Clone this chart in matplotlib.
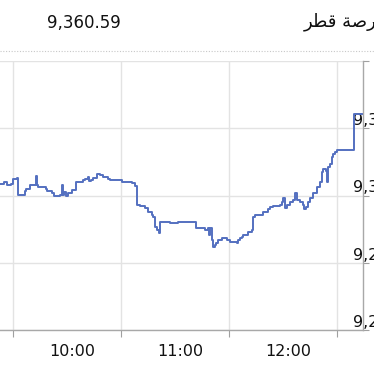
import matplotlib
matplotlib.use("Agg")
import matplotlib.pyplot as plt
from matplotlib.lines import Line2D

# intraday index level, minutes after 10:00
minutes = [-7.5, -5.0, -3.3, -1.0, 0.0, 2.0, 2.8, 6.7, 7.2, 9.4, 12.8, 13.3, 13.9,
           18.3, 18.9, 20.6, 21.7, 23.0, 26.1, 27.2, 27.8, 28.5, 29.4, 30.6, 32.8,
           35.0, 38.9, 40.0, 41.7, 42.2, 43.3, 44.4, 46.7, 48.3, 50.0, 52.8, 53.9,
           60.6, 65.0, 66.1, 67.8, 68.9, 70.6, 73.3, 75.0, 77.2, 77.8, 78.9, 80.0,
           81.1, 81.7, 87.2, 90.6, 91.7, 101.7, 106.7, 108.3, 108.9, 109.4, 110.6,
           111.1, 112.2, 113.0, 113.9, 116.1, 118.9, 120.6, 124.4, 125.0, 126.1,
           127.2, 127.8, 130.6, 132.8, 133.3, 134.4, 138.9, 141.7, 142.8, 144.4,
           148.3, 149.4, 150.0, 151.1, 152.2, 153.9, 155.6, 156.7, 157.8, 159.4,
           161.1, 161.7, 162.8, 163.9, 165.0, 166.7, 168.9, 170.6, 171.7, 172.2,
           173.9, 174.4, 175.0, 176.1, 177.2, 177.8, 179.0, 180.0, 189.4, 194.4]
levels = [9308.2, 9309.7, 9307.5, 9308.5, 9311.9, 9312.7, 9300.7, 9303.0, 9304.5, 9307.5,
          9314.2, 9307.5, 9306.0, 9305.2, 9303.7, 9303.0, 9301.5, 9300.0, 9300.7, 9307.5,
          9300.7, 9302.5, 9299.3, 9302.2, 9304.0, 9310.4, 9311.2, 9312.5, 9313.4, 9310.5,
          9311.2, 9312.7, 9315.7, 9315.0, 9313.4, 9311.9, 9311.2, 9310.4, 9310.0, 9309.0,
          9306.7, 9293.3, 9292.5, 9291.0, 9288.1, 9285.8, 9284.3, 9276.9, 9274.6, 9272.4,
          9280.6, 9279.4, 9279.9, 9280.6, 9276.1, 9274.6, 9276.1, 9270.9, 9276.1, 9267.2,
          9261.9, 9263.4, 9264.9, 9267.2, 9268.7, 9267.2, 9265.7, 9264.9, 9267.2, 9268.7,
          9269.4, 9270.9, 9273.1, 9274.6, 9284.3, 9285.8, 9288.1, 9289.6, 9291.8, 9292.5,
          9293.3, 9294.8, 9298.5, 9291.0, 9293.3, 9294.8, 9297.0, 9302.2, 9297.0, 9295.5,
          9293.3, 9289.6, 9291.8, 9295.5, 9298.5, 9302.2, 9306.0, 9310.4, 9317.2, 9319.4,
          9317.9, 9309.7, 9320.9, 9323.1, 9328.4, 9330.6, 9332.1, 9333.6, 9360.59, 9360.59]

last_value = "9,360.59"
# "بورصة قطر" in shaped presentation forms, visual (left-to-right) order
exchange_name = "\ufeae\ufec4\ufed7 \ufe94\ufebb\ufead\ufeee\ufe91"

hour_ticks = [0, 60, 120, 180]
label_ticks = [33, 93, 153]
hour_labels = ["10:00", "11:00", "12:00"]
y_ticks = [9200, 9250, 9300, 9350, 9400]
y_labels = ["9,200", "9,250", "9,300", "9,350", ""]

W, H = 374, 366
fig = plt.figure(figsize=(W / 100, H / 100), dpi=100)
fig.patch.set_facecolor("white")

ax = fig.add_axes([0, (H - 330) / H, 363 / W, 269 / H])
ax.plot(minutes, levels, color="#5470c0", lw=1.4, drawstyle="steps-post")
ax.set_xlim(-7.2, 194.4)
ax.set_ylim(9200, 9400)

ax.set_xticks(hour_ticks)
ax.set_xticklabels([])
ax.set_xticks(label_ticks, minor=True)
ax.set_xticklabels(hour_labels, minor=True, fontsize=11.5, color="#111111")
ax.tick_params(axis="x", which="major", length=5, color="#a0a0a0", direction="out")
ax.tick_params(axis="x", which="minor", length=0, pad=10)

ax.yaxis.tick_right()
ax.set_yticks(y_ticks)
ax.set_yticklabels(y_labels, fontsize=11.5, color="#111111")
ax.tick_params(axis="y", length=4, color="#a0a0a0", direction="out", pad=-11)
for lbl in ax.get_yticklabels():
    lbl.set_horizontalalignment("left")
    lbl.set_verticalalignment("bottom")

ax.grid(True, which="major", color="#e3e3e3", lw=1)
ax.set_axisbelow(True)
for side in ["top", "left"]:
    ax.spines[side].set_visible(False)
for side in ["bottom", "right"]:
    ax.spines[side].set_color("#a8a8a8")
    ax.spines[side].set_linewidth(1)

fig.text(47 / W, 1 - 23 / H, last_value, fontsize=12, color="#111111",
         ha="left", va="center")
fig.text(304 / W, 1 - 22 / H, exchange_name, fontsize=13, color="#111111",
         ha="left", va="center", family=["DejaVu Sans"])
fig.add_artist(Line2D([0, 1], [1 - 51 / H, 1 - 51 / H], transform=fig.transFigure,
                      color="#c8c8c8", lw=0.8, linestyle=(0, (1, 1.5))))

fig.savefig("out.png", dpi=100)
